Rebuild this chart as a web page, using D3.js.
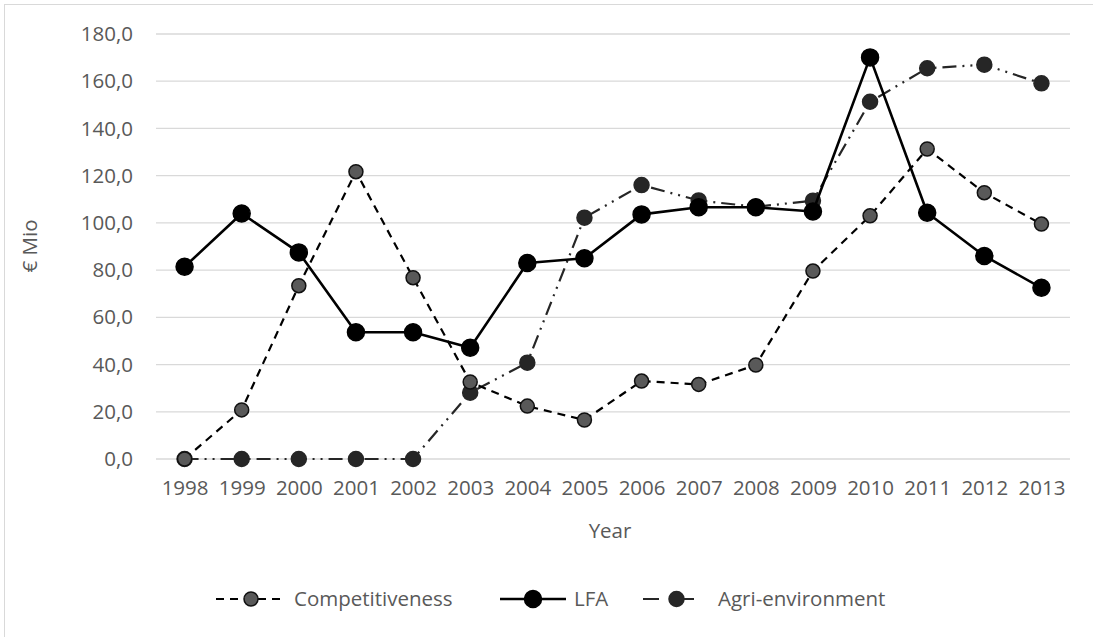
<!DOCTYPE html>
<html>
<head>
<meta charset="utf-8">
<script src="https://cdn.jsdelivr.net/npm/d3@7/dist/d3.min.js"></script>
<style>
  html, body { margin: 0; padding: 0; background: #fff; }
  svg { display: block; font-family: "Open Sans", sans-serif; }
</style>
</head>
<body>
<div id="chart"></div>
<script>
// data
const years = ["1998","1999","2000","2001","2002","2003","2004","2005","2006","2007","2008","2009","2010","2011","2012","2013"];
const competitiveness = [0, 20.8, 73.4, 121.7, 76.8, 32.6, 22.4, 16.5, 33.0, 31.6, 39.8, 79.6, 103.0, 131.3, 112.8, 99.5];
const lfa = [81.4, 104.0, 87.5, 53.7, 53.7, 47.1, 83.0, 85.0, 103.6, 106.6, 106.6, 104.8, 170.1, 104.3, 86.0, 72.5];
const agriEnv = [0, 0, 0, 0, 0, 28.1, 40.8, 102.2, 116.0, 109.5, 106.8, 109.4, 151.3, 165.5, 167.0, 159.1];
const yTicks = [0, 20, 40, 60, 80, 100, 120, 140, 160, 180];

const W = 1093, H = 637;
const FS = 20.5;
const TXT = "#595959";

const svg = d3.select("#chart").append("svg")
  .attr("width", W)
  .attr("height", H);

// outer chart border
svg.append("rect")
  .attr("x", 4.5).attr("y", 4.5)
  .attr("width", 1200).attr("height", 800)
  .attr("fill", "#fff")
  .attr("stroke", "#d9d9d9")
  .attr("stroke-width", 1);

const x = d3.scalePoint()
  .domain(years)
  .range([156, 1070])
  .padding(0.5);

const y = d3.scaleLinear()
  .domain([0, 180])
  .range([459, 34]);

// gridlines
svg.append("g")
  .selectAll("line")
  .data(yTicks)
  .join("line")
  .attr("x1", 156)
  .attr("x2", 1070)
  .attr("y1", d => y(d))
  .attr("y2", d => y(d))
  .attr("stroke", "#d9d9d9")
  .attr("stroke-width", 1.3);

// y axis labels
const fmt = d => d3.format(".1f")(d).replace(".", ",");
const yAxis = svg.append("g")
  .attr("transform", "translate(145,0)")
  .call(d3.axisLeft(y).tickValues(yTicks).tickFormat(fmt).tickSize(0).tickPadding(12));
yAxis.select(".domain").remove();
yAxis.selectAll("text")
  .attr("font-size", FS)
  .attr("fill", TXT)
  .attr("font-family", "Open Sans, sans-serif");

// x axis labels
const xAxis = svg.append("g")
  .attr("transform", "translate(0,472)")
  .call(d3.axisBottom(x).tickSize(0).tickPadding(8));
xAxis.select(".domain").remove();
xAxis.selectAll("text")
  .attr("font-size", FS)
  .attr("fill", TXT)
  .attr("font-family", "Open Sans, sans-serif");

// axis titles
svg.append("text")
  .attr("x", 610).attr("y", 538)
  .attr("text-anchor", "middle")
  .attr("font-size", FS)
  .attr("fill", TXT)
  .text("Year");

svg.append("text")
  .attr("transform", "translate(37,246) rotate(-90)")
  .attr("text-anchor", "middle")
  .attr("font-size", FS)
  .attr("fill", TXT)
  .text("€ Mio");

const series = [
  { name: "Competitiveness", values: competitiveness, dash: "8,6", width: 2.2, stroke: "#000", fill: "#595959", mstroke: "#111", r: 7 },
  { name: "LFA", values: lfa, dash: null, width: 2.6, stroke: "#000", fill: "#000", mstroke: "#000", r: 8.5 },
  { name: "Agri-environment", values: agriEnv, dash: "14,6,2,6,2,6", width: 2.2, stroke: "#262626", fill: "#262626", mstroke: "#262626", r: 7.5 }
];

const line = d3.line()
  .x((d, i) => x(years[i]))
  .y(d => y(d));

// draw agri first, then competitiveness, then LFA on top
const drawOrder = [series[2], series[0], series[1]];
drawOrder.forEach(s => {
  const g = svg.append("g");
  g.append("path")
    .datum(s.values)
    .attr("d", line)
    .attr("fill", "none")
    .attr("stroke", s.stroke)
    .attr("stroke-width", s.width)
    .attr("stroke-dasharray", s.dash)
    .attr("stroke-linejoin", "round");
  g.selectAll("circle")
    .data(s.values)
    .join("circle")
    .attr("cx", (d, i) => x(years[i]))
    .attr("cy", d => y(d))
    .attr("r", s.r)
    .attr("fill", s.fill)
    .attr("stroke", s.mstroke)
    .attr("stroke-width", 1.5);
});

// legend
const legendItems = [
  { s: series[0], x0: 216, x1: 286, tx: 294 },
  { s: series[1], x0: 500, x1: 566, tx: 574 },
  { s: series[2], x0: 643, x1: 710, tx: 718 }
];
const ly = 599;
const legend = svg.append("g");
legendItems.forEach(it => {
  legend.append("line")
    .attr("x1", it.x0).attr("x2", it.x1)
    .attr("y1", ly).attr("y2", ly)
    .attr("stroke", it.s.stroke)
    .attr("stroke-width", it.s.width)
    .attr("stroke-dasharray", it.s.name === "Agri-environment" ? "16,19,16" : it.s.dash);
  legend.append("circle")
    .attr("cx", (it.x0 + it.x1) / 2)
    .attr("cy", ly)
    .attr("r", it.s.r)
    .attr("fill", it.s.fill)
    .attr("stroke", it.s.mstroke)
    .attr("stroke-width", 1.5);
  legend.append("text")
    .attr("x", it.tx)
    .attr("y", ly)
    .attr("dy", "0.35em")
    .attr("font-size", FS)
    .attr("fill", TXT)
    .text(it.s.name);
});
</script>
</body>
</html>
